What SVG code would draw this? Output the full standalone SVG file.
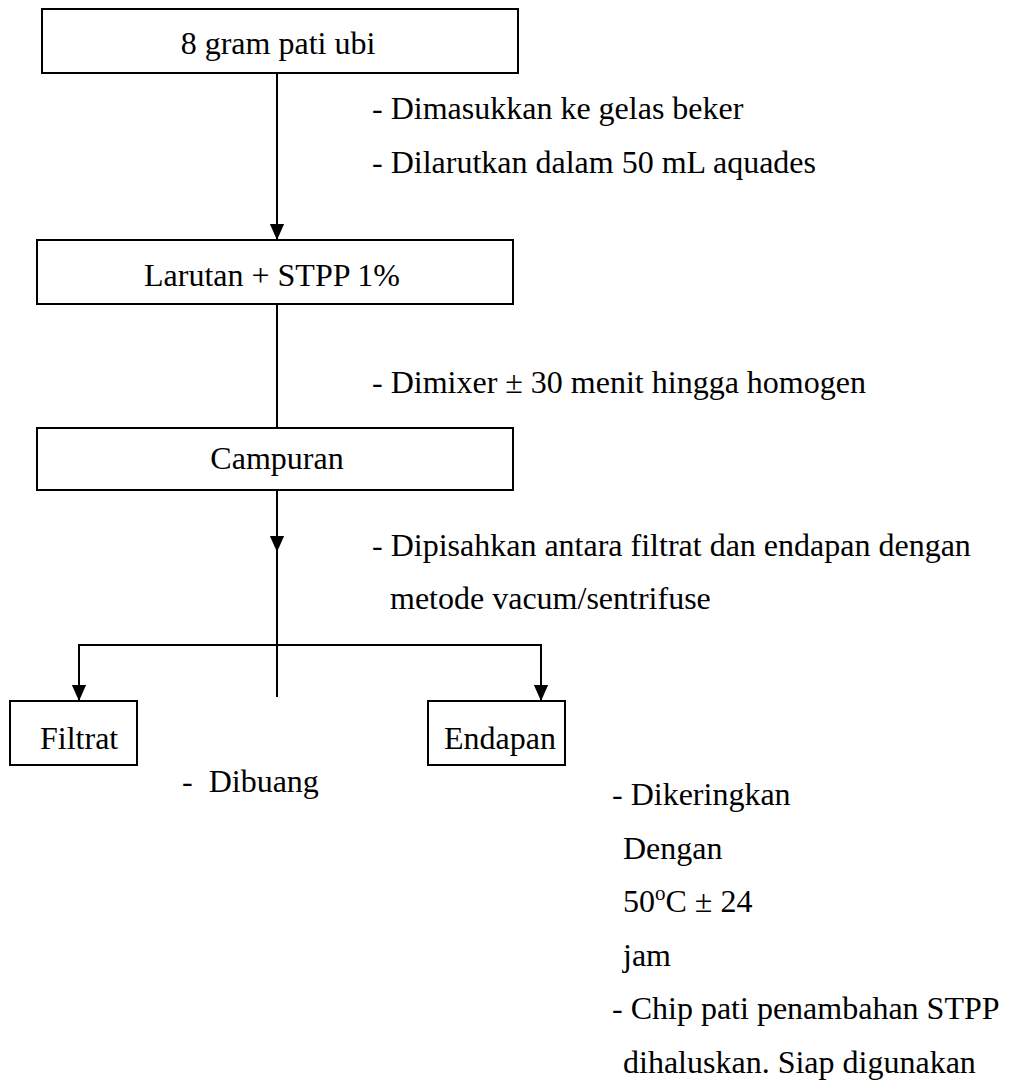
<svg xmlns="http://www.w3.org/2000/svg" width="1018" height="1085" viewBox="0 0 1018 1085">
<defs>
<style>
.box{fill:#fff;stroke:#000;stroke-width:2}
.ln{fill:none;stroke:#000;stroke-width:2}
text{font-family:"Liberation Serif","Times New Roman",serif;font-size:32px;fill:#000}
.c{text-anchor:middle}
</style>
<marker id="ah" markerWidth="16" markerHeight="18" refX="18" refY="8" orient="auto" markerUnits="userSpaceOnUse" viewBox="0 0 18 16">
<path d="M0,0 L18,8 L0,16 z" fill="#000"/>
</marker>
</defs>
<rect width="1018" height="1085" fill="#fff"/>
<g id="connectors">
<line class="ln" x1="277" y1="73" x2="277" y2="240" marker-end="url(#ah)"/>
<line class="ln" x1="277" y1="304" x2="277" y2="428"/>
<line class="ln" x1="277" y1="490" x2="277" y2="552" marker-end="url(#ah)"/>
<line class="ln" x1="277" y1="548" x2="277" y2="697"/>
<line class="ln" x1="79" y1="645" x2="541" y2="645"/>
<line class="ln" x1="79" y1="644" x2="79" y2="701" marker-end="url(#ah)"/>
<line class="ln" x1="541" y1="644" x2="541" y2="701" marker-end="url(#ah)"/>
</g>
<g id="n1"><rect class="box" x="42" y="9" width="476" height="64"/><text class="c" x="278" y="54">8 gram pati ubi</text></g>
<g id="n2"><rect class="box" x="37" y="240" width="476" height="64"/><text class="c" x="272" y="286">Larutan + STPP 1%</text></g>
<g id="n3"><rect class="box" x="37" y="428" width="476" height="62"/><text class="c" x="277" y="469">Campuran</text></g>
<g id="n4"><rect class="box" x="10" y="701" width="127" height="64"/><text x="40" y="749">Filtrat</text></g>
<g id="n5"><rect class="box" x="428" y="701" width="137" height="64"/><text x="444" y="749">Endapan</text></g>
<g id="labels">
<text x="372" y="119">- Dimasukkan ke gelas beker</text>
<text x="372" y="173">- Dilarutkan dalam 50 mL aquades</text>
<text x="372" y="393">- Dimixer ± 30 menit hingga homogen</text>
<text x="372" y="556">- Dipisahkan antara filtrat dan endapan dengan</text>
<text x="390" y="609">metode vacum/sentrifuse</text>
<text x="182" y="792" xml:space="preserve">-  Dibuang</text>
<text x="612" y="805">- Dikeringkan</text>
<text x="623" y="859">Dengan</text>
<text x="623" y="912">50<tspan font-size="21" dy="-12">o</tspan><tspan dy="12">C ± 24</tspan></text>
<text x="623" y="966">jam</text>
<text x="612" y="1019">- Chip pati penambahan STPP</text>
<text x="623" y="1073">dihaluskan. Siap digunakan</text>
</g>
</svg>
